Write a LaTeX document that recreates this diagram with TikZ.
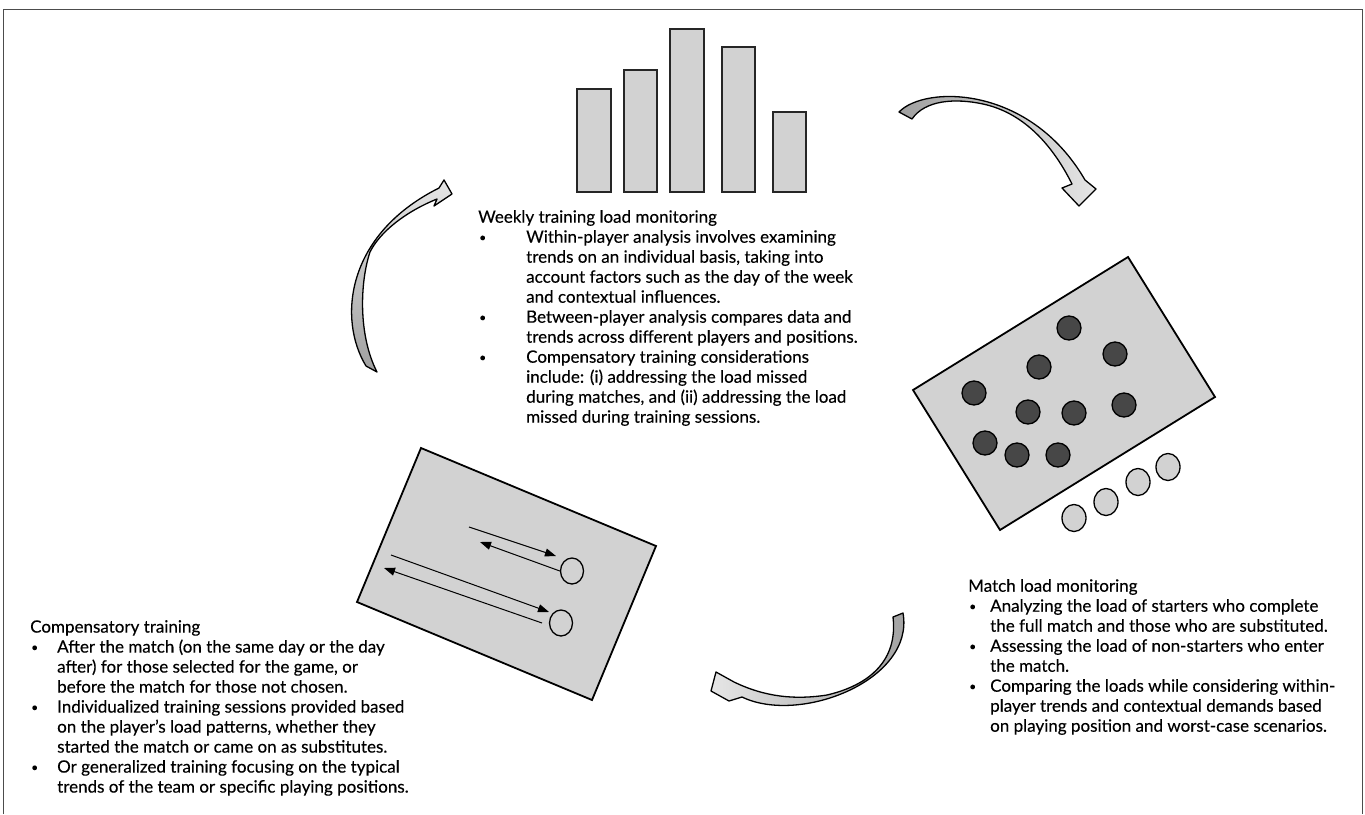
\documentclass[tikz,border=0pt]{standalone}
\usepackage{fontspec}
\setmainfont{Lato}[FakeBold=0.25]
\usetikzlibrary{arrows.meta,shapes.geometric}

\newcommand{\bul}[1]{\hspace*{1pt}\makebox[#1][l]{\raisebox{1.2pt}{\fontsize{12}{20}\selectfont\textbullet}}}

\begin{document}
\begin{tikzpicture}[x=1pt, y=-1pt,
    bar/.style={draw=black!85, line width=2.2pt, fill=gray!35},
    field/.style={draw=black, line width=1.8pt, fill=gray!35},
    player/.style={circle, draw=black, line width=1.3pt, fill=black!72, minimum size=24pt, inner sep=0pt},
    bench/.style={ellipse, draw=black, line width=1.3pt, fill=gray!35, minimum width=24pt, minimum height=27pt, inner sep=0pt},
    runner/.style={ellipse, draw=black, line width=1.3pt, fill=gray!35, minimum width=23pt, minimum height=26pt, inner sep=0pt},
    drill/.style={line width=1pt, -{Triangle[length=11pt,width=8pt]}},
    bigarrow/.style={draw=black, line width=1.3pt, line join=round},
    txt/.style={inner sep=0pt, align=left, font=\fontsize{17}{20}\selectfont}]
    \useasboundingbox (0,0) rectangle (1365,814);

    % Frame (open at the bottom)
    \draw[black!70, line width=1pt] (3,814) -- (3,9) -- (1362,9) -- (1362,814);

    % Weekly load bars
    \draw[bar] (577,192) rectangle (611,89);
    \draw[bar] (624,192) rectangle (657,70);
    \draw[bar] (670,192) rectangle (704,29);
    \draw[bar] (722,192) rectangle (755,47);
    \draw[bar] (773,192) rectangle (806,112);

    % Match pitch with starters and substitutes
    \draw[field] (1128,257) -- (1215,397) -- (1000,530) -- (913,390) -- cycle;
    \node[player] (p1) at (1069,328) {};
    \node[player] (p2) at (1115,354) {};
    \node[player] (p3) at (1039,367) {};
    \node[player] (p4) at (974,393) {};
    \node[player] (p5) at (1028,412) {};
    \node[player] (p6) at (1074,413) {};
    \node[player] (p7) at (1124,405) {};
    \node[player] (p8) at (985,443) {};
    \node[player] (p9) at (1017,455) {};
    \node[player] (p10) at (1058,455) {};
    \node[bench] (s1) at (1074,518) {};
    \node[bench] (s2) at (1106,502) {};
    \node[bench] (s3) at (1138,482) {};
    \node[bench] (s4) at (1168,467) {};

    % Compensatory pitch with running drills
    \draw[field] (421,448) -- (656,546) -- (592,700) -- (357,602) -- cycle;
    \node[runner] (r1) at (572,571) {};
    \node[runner] (r2) at (561,623) {};
    \coordinate (u1) at (469,527);
    \coordinate (u1e) at (556,556);
    \coordinate (u2e) at (480,542);
    \coordinate (l1) at (391,555);
    \coordinate (l1e) at (549,612);
    \coordinate (l2) at (542,623);
    \coordinate (l2e) at (384,568);
    \draw[drill] (u1) -- (u1e);
    \draw[drill] (r1.west) -- (u2e);
    \draw[drill] (l1) -- (l1e);
    \draw[drill] (l2) -- (l2e);

    % Cycle arrows
    \draw[bigarrow, left color=gray!75, right color=gray!20]
      (899,112) .. controls (925,85) and (1030,85) .. (1085,180)
      -- (1096,189) -- (1079,206) -- (1062,188) -- (1072,184)
      .. controls (1050,140) and (1020,112) .. (983,104)
      .. controls (955,98) and (925,100) .. (912,119) -- cycle;
    \draw[bigarrow, left color=gray!20, right color=gray!75]
      (903,613) .. controls (915,680) and (800,725) .. (742,697)
      -- (729,701) -- (711,691) -- (716,672) -- (734,682)
      .. controls (765,697) and (795,700) .. (827,695)
      .. controls (870,685) and (898,660) .. (893,617) -- cycle;
    \draw[bigarrow, top color=gray!20, bottom color=gray!75]
      (366,366) .. controls (338,320) and (345,235) .. (439,188)
      -- (444,180) -- (452,194) -- (434,206) -- (437,199)
      .. controls (405,212) and (380,232) .. (370,252)
      .. controls (360,282) and (358,335) .. (377,372) -- cycle;

    % Texts
    \node[txt, anchor=north west] (weekly) at (478,210) {Weekly training load monitoring\\
      \bul{47pt}Within-player analysis involves examining\\
      \hspace*{48pt}trends on an individual basis, taking into\\
      \hspace*{48pt}account factors such as the day of the week\\
      \hspace*{48pt}and contextual influences.\\
      \bul{47pt}Between-player analysis compares data and\\
      \hspace*{48pt}trends across different players and positions.\\
      \bul{47pt}Compensatory training considerations\\
      \hspace*{48pt}include: (i) addressing the load missed\\
      \hspace*{48pt}during matches, and (ii) addressing the load\\
      \hspace*{48pt}missed during training sessions.};
    \node[txt, anchor=north west] (matchtxt) at (968,579) {Match load monitoring\\
      \bul{21pt}Analyzing the load of starters who complete\\
      \hspace*{22pt}the full match and those who are substituted.\\
      \bul{21pt}Assessing the load of non-starters who enter\\
      \hspace*{22pt}the match.\\
      \bul{21pt}Comparing the loads while considering within-\\
      \hspace*{22pt}player trends and contextual demands based\\
      \hspace*{22pt}on playing position and worst-case scenarios.};
    \node[txt, anchor=north west] (comptxt) at (30,620) {Compensatory training\\
      \bul{26pt}After the match (on the same day or the day\\
      \hspace*{27pt}after) for those selected for the game, or\\
      \hspace*{27pt}before the match for those not chosen.\\
      \bul{26pt}Individualized training sessions provided based\\
      \hspace*{27pt}on the player’s load patterns, whether they\\
      \hspace*{27pt}started the match or came on as substitutes.\\
      \bul{26pt}Or generalized training focusing on the typical\\
      \hspace*{27pt}trends of the team or specific playing positions.};
\end{tikzpicture}
\end{document}
